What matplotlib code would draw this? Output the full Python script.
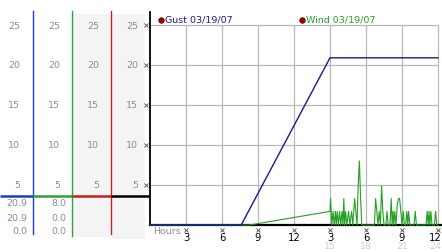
import matplotlib
matplotlib.use("Agg")
import matplotlib.pyplot as plt

# ---------------- data ----------------
gust_hours = [0.0, 7.6, 15.0, 24.0]
gust_values = [0.0, 0.0, 20.9, 20.9]

wind_hours = [0.0, 8.3, 15.0, 15.05, 15.15, 15.25, 15.35, 15.45, 15.52, 15.6,
              15.7, 15.8, 15.9, 16.0, 16.08, 16.15, 16.22, 16.3, 16.4, 16.55,
              16.65, 16.8, 16.9, 17.05, 17.15, 17.25, 17.35, 17.45, 17.55, 17.65,
              18.7, 18.8, 18.9, 19.0, 19.1, 19.2, 19.3, 19.4, 19.5, 19.65,
              19.75, 19.85, 20.0, 20.1, 20.18, 20.25, 20.32, 20.4, 20.5, 20.6,
              20.7, 20.8, 20.9, 21.0, 21.1, 21.2, 21.3, 21.4, 21.48, 21.55,
              21.65, 22.0, 22.1, 22.2, 23.0, 23.1, 23.18, 23.25, 23.32, 23.4,
              23.5, 23.7, 23.8, 23.9, 24.0]
wind_values = [0.0, 0.0, 1.7, 3.3, 0.0, 1.7, 0.0, 1.7, 0.0, 1.7,
               0.0, 1.7, 0.0, 1.7, 0.0, 3.3, 0.0, 1.7, 0.0, 1.7,
               0.0, 1.7, 0.0, 3.3, 1.7, 0.0, 4.9, 8.0, 3.3, 0.0,
               0.0, 3.3, 1.7, 0.0, 1.7, 0.0, 4.9, 1.7, 0.0, 0.0,
               1.7, 0.0, 0.0, 3.3, 0.0, 1.7, 0.0, 1.7, 0.0, 2.5,
               3.3, 3.3, 1.7, 0.0, 1.7, 0.0, 0.0, 1.7, 0.0, 1.7,
               0.0, 0.0, 1.7, 0.0, 0.0, 1.7, 0.0, 1.7, 0.0, 1.7,
               0.0, 0.0, 1.7, 0.0, 0.0]

y_ticks = [5, 10, 15, 20, 25]
x_ticks = [3, 6, 9, 12, 15, 18, 21, 24]
x_labels = ["3", "6", "9", "12", "3", "6", "9", "12"]
x_labels2 = ["", "", "", "", "15", "18", "21", "24"]

gust_stats = ["20.9", "20.9", "0.0"]
wind_stats = ["8.0", "0.0", "0.0"]

legend_labels = ["Gust 03/19/07", "Wind 03/19/07"]

# ---------------- styles ----------------
GUST_C = "#1a1a8c"
WIND_C = "#22a022"
BLUE = "#1f3fbf"
GREEN = "#33a033"
RED = "#c42020"
TXT = "#8c8c8c"
GRID = "#b8b8b8"
FS = 6.8

W, H = 442, 253
fig = plt.figure(figsize=(W / 100, H / 100), dpi=100)
fig.patch.set_facecolor("white")


def px_axes(x0, y0, x1, y1):
    return fig.add_axes([x0 / W, (H - y1) / H, (x1 - x0) / W, (y1 - y0) / H])


def v_of(ypx):
    return (226 - ypx) / 8.0


# ---------------- left panel ----------------
lax = px_axes(0, 0, 150, 253)
lax.set_xlim(0, 150)
lax.set_ylim(v_of(253), v_of(0))
lax.axis("off")

span = v_of(0) - v_of(253)
lax.axvspan(73, 110, ymin=(v_of(238) - v_of(253)) / span,
            ymax=(v_of(15) - v_of(253)) / span, color="#f4f4f4", lw=0)
lax.axvspan(112, 145, ymin=(v_of(240) - v_of(253)) / span,
            ymax=(v_of(15) - v_of(253)) / span, color="#f4f4f4", lw=0)

lax.plot([33, 33], [v_of(12), v_of(235)], color=BLUE, lw=1.0)
lax.plot([72, 72], [v_of(12), v_of(237)], color=GREEN, lw=1.0)
lax.plot([111, 111], [v_of(12), v_of(235)], color=RED, lw=1.0)

yd = v_of(197)
lax.plot([0, 33], [yd, yd], color=BLUE, lw=1.8, solid_capstyle="butt")
lax.plot([33, 72], [yd, yd], color=GREEN, lw=1.8, solid_capstyle="butt")
lax.plot([72, 111], [yd, yd], color=RED, lw=1.8, solid_capstyle="butt")
lax.plot([111, 150], [yd, yd], color="black", lw=1.8, solid_capstyle="butt")

for xr in [20, 60, 99, 138]:
    for t in y_ticks:
        lax.text(xr, t, str(t), ha="right", va="center", fontsize=FS, color=TXT)
for t in y_ticks:
    lax.plot([146], [t], marker="x", ms=2.2, mew=0.6, color="#444444")

for ypx, g, w in zip([204, 219, 232], gust_stats, wind_stats):
    lax.text(27, v_of(ypx), g, ha="right", va="center", fontsize=FS, color=TXT)
    lax.text(66, v_of(ypx), w, ha="right", va="center", fontsize=FS, color=TXT)

# ---------------- main plot ----------------
ax = px_axes(150, 13, 442, 226)
ax.set_xlim(0, 24.333)
ax.set_ylim(0, v_of(13))
ax.set_facecolor("none")
for s in ["top", "right"]:
    ax.spines[s].set_visible(False)
ax.spines["left"].set_color("black")
ax.spines["left"].set_linewidth(1.3)
ax.spines["bottom"].set_color("black")
ax.spines["bottom"].set_linewidth(1.6)
ax.set_xticks([])
ax.set_yticks([])

ax.hlines(y_ticks, 0, 24, color=GRID, lw=0.9, zorder=1)
ax.vlines(x_ticks, 0, 25, color=GRID, lw=0.9, zorder=1)

ax.plot(wind_hours, wind_values, color=WIND_C, lw=0.8, zorder=3, clip_on=False)
ax.plot(gust_hours, gust_values, color=GUST_C, lw=1.0, zorder=4, clip_on=False)

last = x_ticks[-1]
for h, l1, l2 in zip(x_ticks, x_labels, x_labels2):
    ax.plot([h], [v_of(231)], marker="x", ms=2.2, mew=0.6, color="#444444", clip_on=False)
    if h == last:
        tx, ha = 24.27, "right"
    else:
        tx, ha = h, "center"
    ax.text(tx, v_of(238), l1, ha=ha, va="center", fontsize=FS + 0.4, color="black")
    if l2:
        ax.text(tx, v_of(247), l2, ha=ha, va="center", fontsize=FS, color="#cfcfcf")
ax.text(0.25, v_of(232), "Hours", ha="left", va="center", fontsize=FS, color=TXT)

# legend
for hx, lbl, col in zip([0.92, 12.67], legend_labels, [GUST_C, WIND_C]):
    ax.plot([hx], [v_of(20.5)], marker="o", ms=4, color="#a00000", mec="#500000",
            mew=0.5, clip_on=False)
    ax.text(hx + 0.33, v_of(20.5), lbl, ha="left", va="center", fontsize=FS, color=col)

fig.savefig("out.png", dpi=100)
